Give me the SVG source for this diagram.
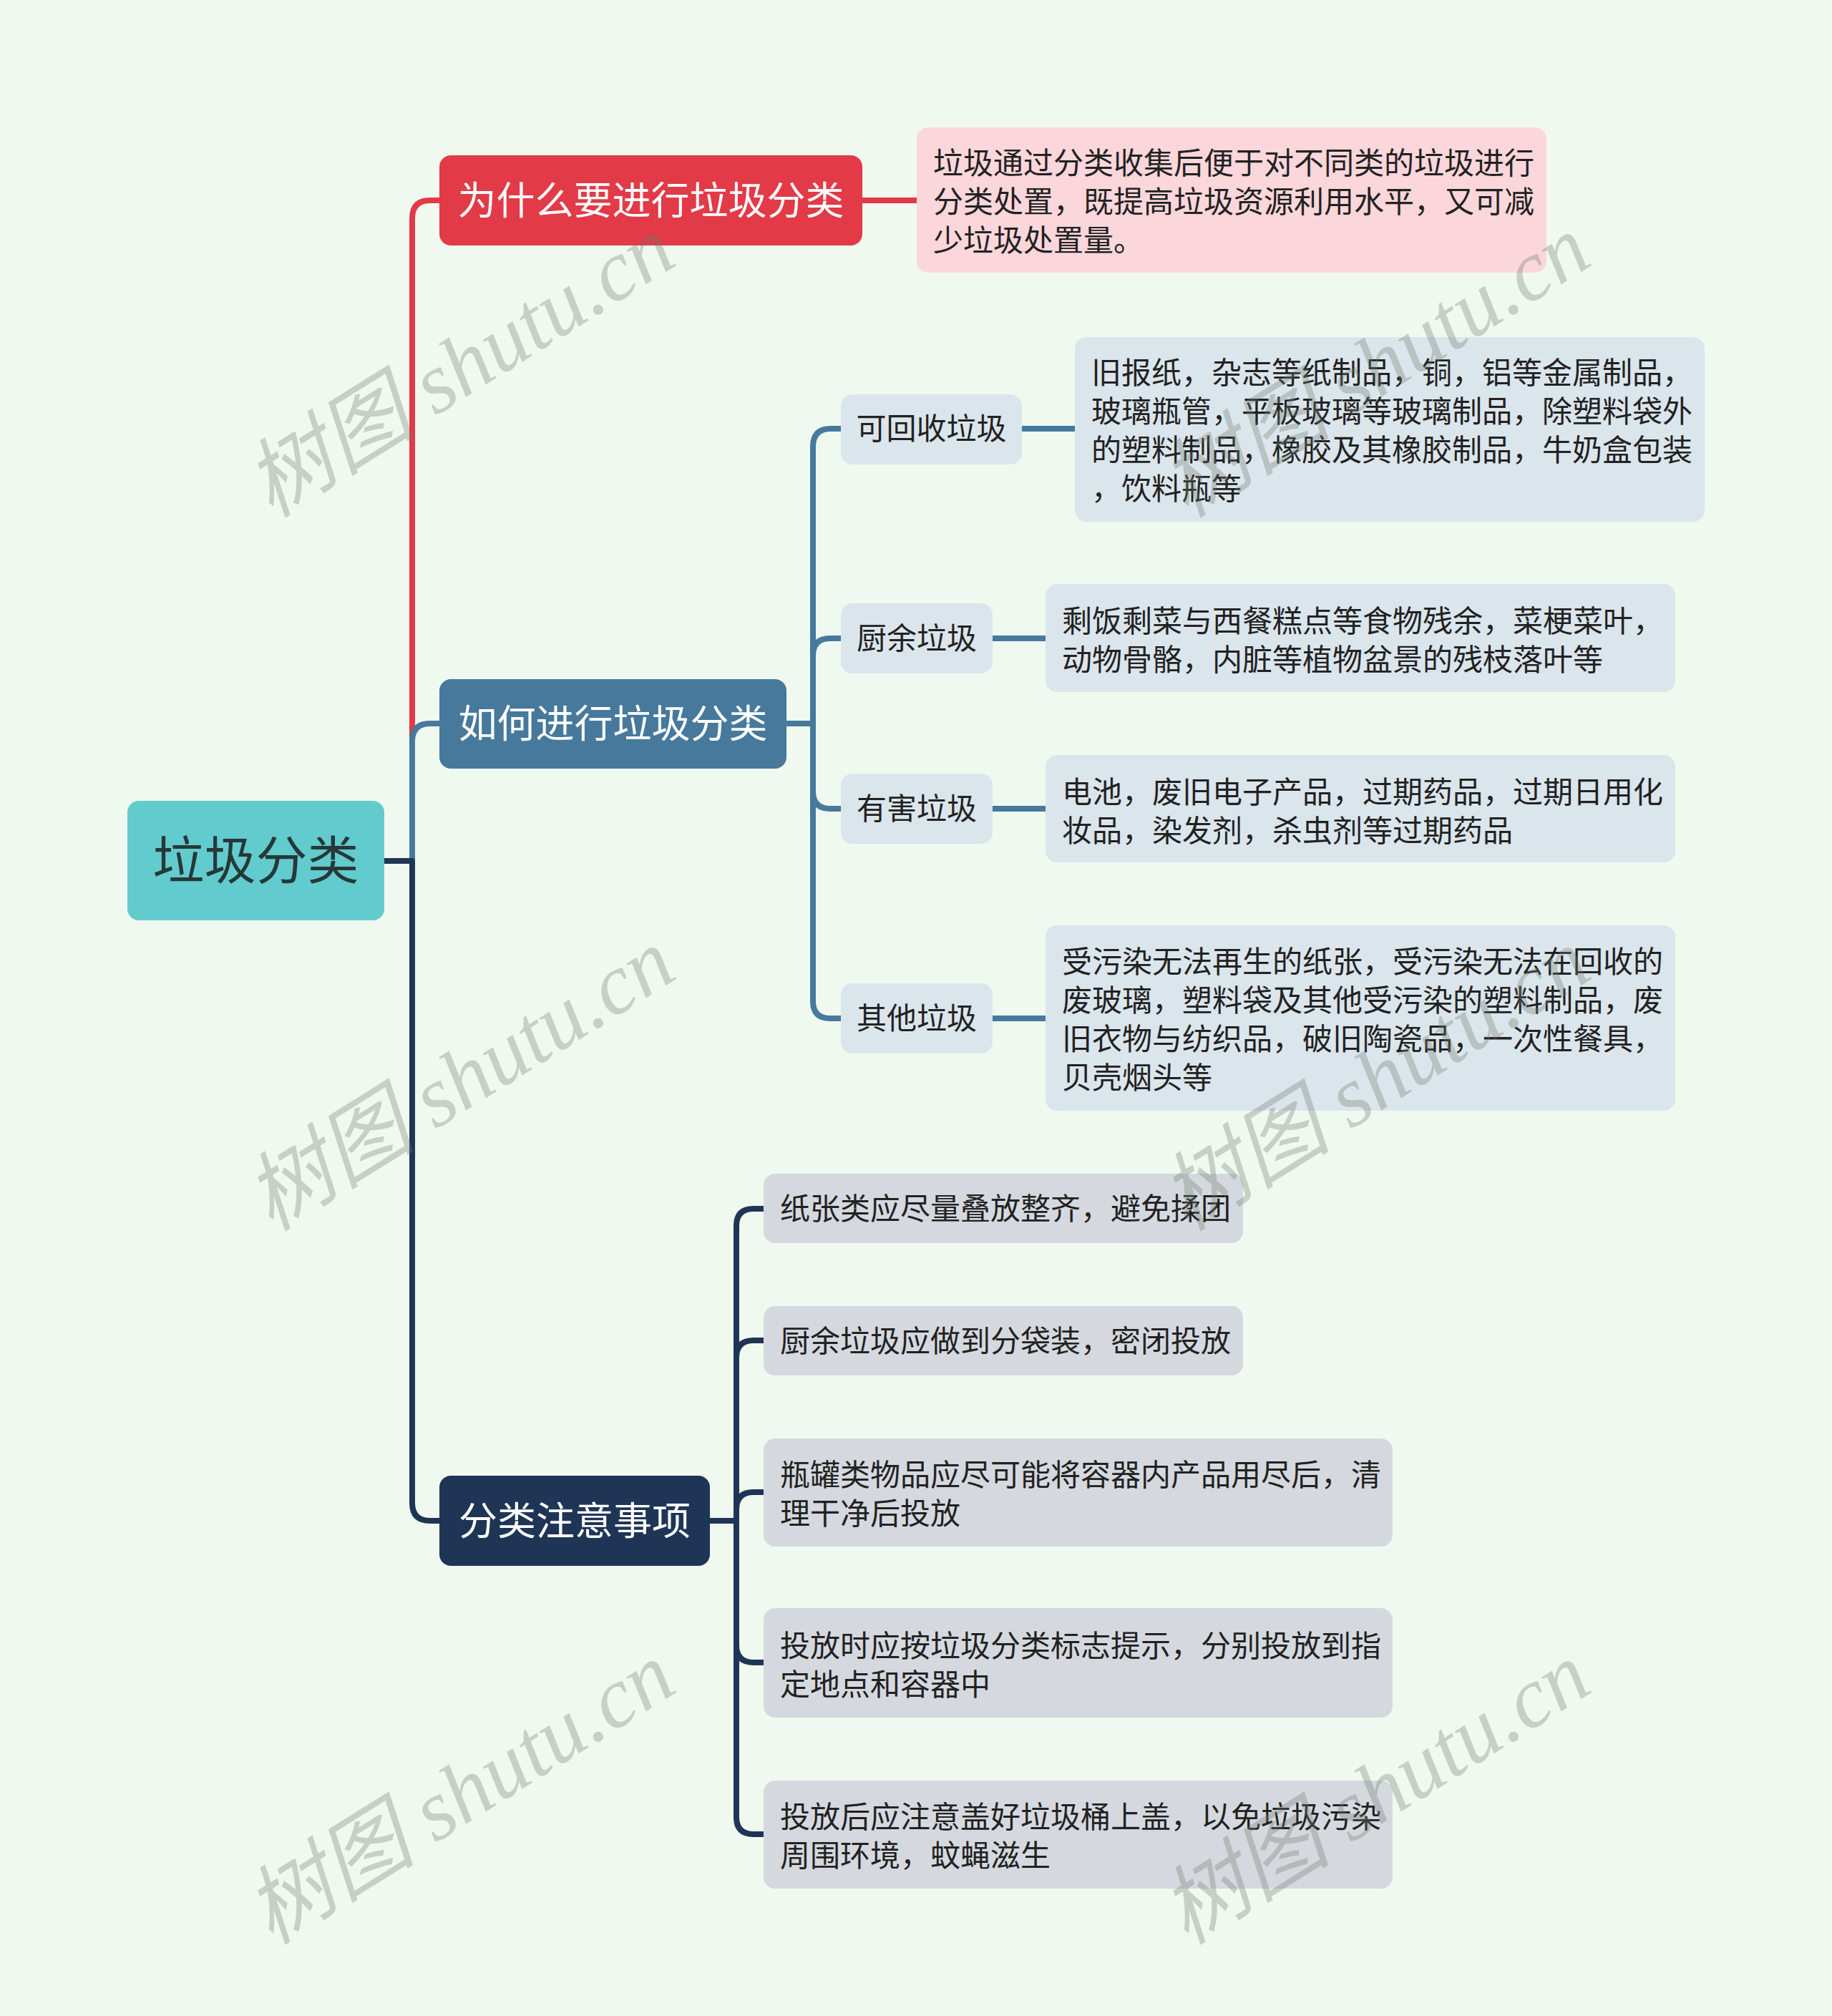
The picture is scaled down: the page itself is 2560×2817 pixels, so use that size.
<svg xmlns="http://www.w3.org/2000/svg" width="2560" height="2817" viewBox="0 0 2560 2817">
<style>
text{font-family:"Noto Sans CJK SC","Noto Sans",sans-serif}
.bg{fill:#f0f9ef}
.c{fill:none;stroke-width:8;stroke-linejoin:round}
.red{stroke:#e23a47}
.blue{stroke:#46799c}
.navy{stroke:#1e3556}
.t42{font-size:42px;fill:#222}
.main{font-size:54px;fill:#ffffff}
.sub{fill:#dbe5ec}
.note{fill:#d5d9df}
.wm{font-family:"Liberation Serif","Noto Sans CJK SC",serif;font-style:italic;font-size:120px;fill:#6f7d70;fill-opacity:0.33}
</style>
<rect class="bg" x="0" y="0" width="2560" height="2817"/>

<g id="connectors">
  <path class="c red" d="M537,1203 H576 V305 Q576,280 601,280 H616"/>
  <path class="c red" d="M1203,280 H1283"/>
  <path class="c blue" d="M537,1203 H576 V1036 Q576,1011 601,1011 H616"/>
  <path class="c navy" d="M537,1203 H576 V2100 Q576,2125 601,2125 H616"/>
  <path class="c blue" d="M1097,1011 H1136 V624 Q1136,599 1161,599 H1177"/>
  <path class="c blue" d="M1097,1011 H1136 V916 Q1136,892 1160,892 H1177"/>
  <path class="c blue" d="M1097,1011 H1136 V1106 Q1136,1130 1160,1130 H1177"/>
  <path class="c blue" d="M1097,1011 H1136 V1399 Q1136,1423 1160,1423 H1177"/>
  <path class="c blue" d="M1426,599 H1504"/>
  <path class="c blue" d="M1385,892 H1463"/>
  <path class="c blue" d="M1385,1130 H1463"/>
  <path class="c blue" d="M1385,1423 H1463"/>
  <path class="c navy" d="M990,2125 H1029 V1713 Q1029,1689 1053,1689 H1069"/>
  <path class="c navy" d="M990,2125 H1029 V1897 Q1029,1873 1053,1873 H1069"/>
  <path class="c navy" d="M990,2125 H1029 V2109 Q1029,2085 1053,2085 H1069"/>
  <path class="c navy" d="M990,2125 H1029 V2299 Q1029,2323 1053,2323 H1069"/>
  <path class="c navy" d="M990,2125 H1029 V2539 Q1029,2563 1053,2563 H1069"/>
</g>

<g id="root">
  <rect x="178" y="1119" width="359" height="167" rx="16" fill="#62cbcd"/>
  <text x="357.5" y="1228" text-anchor="middle" font-size="72" fill="#263838">垃圾分类</text>
</g>

<g id="n-why">
  <rect x="614" y="217" width="591" height="126" rx="16" fill="#e23a47"/>
  <text class="main" x="909.5" y="300" text-anchor="middle">为什么要进行垃圾分类</text>
</g>
<g id="n-why-desc">
  <rect x="1281" y="178" width="880" height="203" rx="16" fill="#fbd6db"/>
  <text class="t42" x="1304" y="243">垃圾通过分类收集后便于对不同类的垃圾进行</text>
  <text class="t42" x="1304" y="297">分类处置，既提高垃圾资源利用水平，又可减</text>
  <text class="t42" x="1304" y="351">少垃圾处置量。</text>
</g>

<g id="n-how">
  <rect x="614" y="949" width="485" height="125" rx="16" fill="#46799c"/>
  <text class="main" x="856.5" y="1031" text-anchor="middle">如何进行垃圾分类</text>
</g>

<g id="n-recyclable">
  <rect class="sub" x="1175" y="551" width="253" height="98" rx="16"/>
  <text class="t42" x="1301.5" y="614" text-anchor="middle">可回收垃圾</text>
</g>
<g id="n-recyclable-desc">
  <rect class="sub" x="1502" y="471" width="880" height="258" rx="16"/>
  <text class="t42" x="1525" y="536">旧报纸，杂志等纸制品，铜，铝等金属制品，</text>
  <text class="t42" x="1525" y="590">玻璃瓶管，平板玻璃等玻璃制品，除塑料袋外</text>
  <text class="t42" x="1525" y="644">的塑料制品，橡胶及其橡胶制品，牛奶盒包装</text>
  <text class="t42" x="1525" y="698">，饮料瓶等</text>
</g>

<g id="n-kitchen">
  <rect class="sub" x="1175" y="843" width="212" height="98" rx="16"/>
  <text class="t42" x="1281" y="907" text-anchor="middle">厨余垃圾</text>
</g>
<g id="n-kitchen-desc">
  <rect class="sub" x="1461" y="816" width="880" height="151" rx="16"/>
  <text class="t42" x="1484" y="883">剩饭剩菜与西餐糕点等食物残余，菜梗菜叶，</text>
  <text class="t42" x="1484" y="937">动物骨骼，内脏等植物盆景的残枝落叶等</text>
</g>

<g id="n-hazard">
  <rect class="sub" x="1175" y="1081" width="212" height="98" rx="16"/>
  <text class="t42" x="1281" y="1145" text-anchor="middle">有害垃圾</text>
</g>
<g id="n-hazard-desc">
  <rect class="sub" x="1461" y="1055" width="880" height="150" rx="16"/>
  <text class="t42" x="1484" y="1122">电池，废旧电子产品，过期药品，过期日用化</text>
  <text class="t42" x="1484" y="1176">妆品，染发剂，杀虫剂等过期药品</text>
</g>

<g id="n-other">
  <rect class="sub" x="1175" y="1374" width="212" height="98" rx="16"/>
  <text class="t42" x="1281" y="1438" text-anchor="middle">其他垃圾</text>
</g>
<g id="n-other-desc">
  <rect class="sub" x="1461" y="1293" width="880" height="259" rx="16"/>
  <text class="t42" x="1484" y="1359">受污染无法再生的纸张，受污染无法在回收的</text>
  <text class="t42" x="1484" y="1413">废玻璃，塑料袋及其他受污染的塑料制品，废</text>
  <text class="t42" x="1484" y="1467">旧衣物与纺织品，破旧陶瓷品，一次性餐具，</text>
  <text class="t42" x="1484" y="1521">贝壳烟头等</text>
</g>

<g id="n-notes">
  <rect x="614" y="2062" width="378" height="126" rx="16" fill="#1e3556"/>
  <text class="main" x="803" y="2145" text-anchor="middle">分类注意事项</text>
</g>

<g id="note-1">
  <rect class="note" x="1067" y="1640" width="670" height="97" rx="16"/>
  <text class="t42" x="1090" y="1704">纸张类应尽量叠放整齐，避免揉团</text>
</g>
<g id="note-2">
  <rect class="note" x="1067" y="1825" width="670" height="97" rx="16"/>
  <text class="t42" x="1090" y="1889">厨余垃圾应做到分袋装，密闭投放</text>
</g>
<g id="note-3">
  <rect class="note" x="1067" y="2010" width="879" height="151" rx="16"/>
  <text class="t42" x="1090" y="2076">瓶罐类物品应尽可能将容器内产品用尽后，清</text>
  <text class="t42" x="1090" y="2130">理干净后投放</text>
</g>
<g id="note-4">
  <rect class="note" x="1067" y="2247" width="879" height="153" rx="16"/>
  <text class="t42" x="1090" y="2315">投放时应按垃圾分类标志提示，分别投放到指</text>
  <text class="t42" x="1090" y="2369">定地点和容器中</text>
</g>
<g id="note-5">
  <rect class="note" x="1067" y="2488" width="879" height="151" rx="16"/>
  <text class="t42" x="1090" y="2554">投放后应注意盖好垃圾桶上盖，以免垃圾污染</text>
  <text class="t42" x="1090" y="2608">周围环境，蚊蝇滋生</text>
</g>

<g id="watermarks">
  <text class="wm" transform="translate(643,512) rotate(-32)" text-anchor="middle" dominant-baseline="central">树图 shutu.cn</text>
  <text class="wm" transform="translate(1922,512) rotate(-32)" text-anchor="middle" dominant-baseline="central">树图 shutu.cn</text>
  <text class="wm" transform="translate(643,1509) rotate(-32)" text-anchor="middle" dominant-baseline="central">树图 shutu.cn</text>
  <text class="wm" transform="translate(1922,1509) rotate(-32)" text-anchor="middle" dominant-baseline="central">树图 shutu.cn</text>
  <text class="wm" transform="translate(643,2506) rotate(-32)" text-anchor="middle" dominant-baseline="central">树图 shutu.cn</text>
  <text class="wm" transform="translate(1922,2506) rotate(-32)" text-anchor="middle" dominant-baseline="central">树图 shutu.cn</text>
</g>
</svg>
